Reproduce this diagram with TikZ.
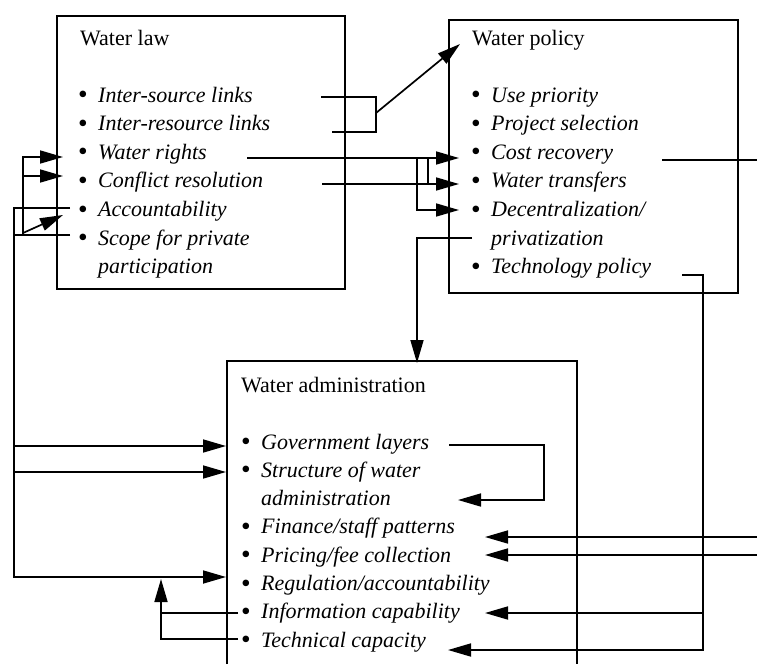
\documentclass[tikz,border=0pt]{standalone}
\usepackage{fontspec}
\setmainfont{Liberation Serif}
\usetikzlibrary{arrows.meta}
\newcommand\bitem[4]{%
  \node[blt] (#1b) at ({#2-15},#3) {\raisebox{-1.6pt}{\scalebox{1.25}{•}}};
  \node[itm] (#1) at (#2,#3) {#4};}
\newcommand\citem[4]{%
  \node[itm] (#1) at (#2,#3) {#4};}
\begin{document}
\begin{tikzpicture}[x=1pt,y=-1pt,
  conn/.style={line width=1.7pt},
  arr/.style={conn,-{Triangle[length=23pt,width=13pt]}},
  boxline/.style={line width=1.9pt},
  itm/.style={anchor=base west, inner sep=0pt, font=\fontsize{22}{26}\selectfont\itshape},
  ttl/.style={anchor=base west, inner sep=0pt, font=\fontsize{22}{26}\selectfont},
  blt/.style={anchor=base, inner sep=0pt, font=\fontsize{22}{26}\selectfont}]
\useasboundingbox (0,0) rectangle (757,664);

% boxes
\node[draw, boxline, anchor=north west, inner sep=0pt, outer sep=0pt,
      minimum width=288pt, minimum height=273pt] (law) at (57,16) {};
\node[draw, boxline, anchor=north west, inner sep=0pt, outer sep=0pt,
      minimum width=289pt, minimum height=273pt] (pol) at (449,20) {};
\node[anchor=north west, inner sep=0pt, outer sep=0pt,
      minimum width=350pt, minimum height=303pt] (adm) at (227,361) {};
\draw[boxline] (adm.south west) -- (adm.north west) -- (adm.north east) -- (adm.south east);

% Water law
\node[ttl] (lawt) at (80,45) {Water law};
\bitem{l1}{98}{102}{Inter-source links}
\bitem{l2}{98}{130.6}{Inter-resource links}
\bitem{l3}{98}{159.2}{Water rights}
\bitem{l4}{98}{187.8}{Conflict resolution}
\bitem{l5}{98}{216.4}{Accountability}
\bitem{l6}{98}{245}{Scope for private}
\citem{l7}{98}{273.6}{participation}

% Water policy
\node[ttl] (polt) at (472,45) {Water policy};
\bitem{p1}{491}{102}{Use priority}
\bitem{p2}{491}{130.6}{Project selection}
\bitem{p3}{491}{159.2}{Cost recovery}
\bitem{p4}{491}{187.8}{Water transfers}
\bitem{p5}{491}{216.4}{Decentralization/}
\citem{p6}{491}{245}{privatization}
\bitem{p7}{491}{273.6}{Technology policy}

% Water administration
\node[ttl] (admt) at (241,392) {Water administration};
\bitem{a1}{261}{449}{Government layers}
\bitem{a2}{261}{477.3}{Structure of water}
\citem{a3}{261}{505.6}{administration}
\bitem{a4}{261}{533.9}{Finance/staff patterns}
\bitem{a5}{261}{562.2}{Pricing/fee collection}
\bitem{a6}{261}{590.5}{Regulation/accountability}
\bitem{a7}{261}{618.8}{Information capability}
\bitem{a8}{261}{647.1}{Technical capacity}

% coordinates
\coordinate (s1) at (321,97);
\coordinate (s2) at (376,97);
\coordinate (s3) at (376,132);
\coordinate (s4) at (332,132);
\coordinate (s5) at (376,113);
\coordinate (ptip) at (460,44);

\coordinate (r1) at (247,158);
\coordinate (r2) at (459,158);
\coordinate (c1) at (322,184);
\coordinate (c2) at (459,184);
\coordinate (j1) at (428,158);
\coordinate (j2) at (428,184);
\coordinate (j3) at (417,158);
\coordinate (j4) at (417,210);
\coordinate (j5) at (459,210);

\coordinate (cr1) at (662,160);
\coordinate (cr2) at (757,160);

\coordinate (d1) at (472,238);
\coordinate (d2) at (417,238);
\coordinate (d3) at (417,363);

\coordinate (t1) at (682,275);
\coordinate (t2) at (703,275);
\coordinate (t3) at (703,650);
\coordinate (t4) at (448,650);
\coordinate (t5) at (703,613);
\coordinate (t6) at (485,613);

\coordinate (f1) at (757,537);
\coordinate (f2) at (485,537);
\coordinate (f3) at (757,555);
\coordinate (f4) at (485,555);

\coordinate (g1) at (449,445);
\coordinate (g2) at (544,445);
\coordinate (g3) at (544,500);
\coordinate (g4) at (458,500);

\coordinate (L1) at (70,208);
\coordinate (L2) at (14,208);
\coordinate (L3) at (14,577);
\coordinate (L4) at (226,577);
\coordinate (L5) at (14,446);
\coordinate (L6) at (226,446);
\coordinate (L7) at (14,472);
\coordinate (L8) at (226,472);
\coordinate (S1) at (70,235);
\coordinate (S2) at (14,235);
\coordinate (V1) at (23,235);
\coordinate (V2) at (23,157);
\coordinate (V3) at (63,157);
\coordinate (V4) at (23,176);
\coordinate (V5) at (63,176);
\coordinate (V6) at (23,233);
\coordinate (V7) at (63,215);

\coordinate (i1) at (238,613);
\coordinate (i2) at (161,613);
\coordinate (k1) at (238,639);
\coordinate (k2) at (161,639);
\coordinate (k3) at (161,579);

% connectors
\draw[conn] (s1) -- (s2) -- (s3) -- (s4);
\draw[arr] (s5) -- (ptip);
\draw[arr] (r1) -- (r2);
\draw[arr] (c1) -- (c2);
\draw[conn] (j1) -- (j2);
\draw[arr] (j3) -- (j4) -- (j5);
\draw[conn] (cr1) -- (cr2);
\draw[arr] (d1) -- (d2) -- (d3);
\draw[arr] (t1) -- (t2) -- (t3) -- (t4);
\draw[arr] (t5) -- (t6);
\draw[arr] (f1) -- (f2);
\draw[arr] (f3) -- (f4);
\draw[arr] (g1) -- (g2) -- (g3) -- (g4);
\draw[arr] (L1) -- (L2) -- (L3) -- (L4);
\draw[arr] (L5) -- (L6);
\draw[arr] (L7) -- (L8);
\draw[conn] (S1) -- (S2);
\draw[arr] (V1) -- (V2) -- (V3);
\draw[arr] (V4) -- (V5);
\draw[arr] (V6) -- (V7);
\draw[conn] (i1) -- (i2);
\draw[arr] (k1) -- (k2) -- (k3);
\end{tikzpicture}
\end{document}
